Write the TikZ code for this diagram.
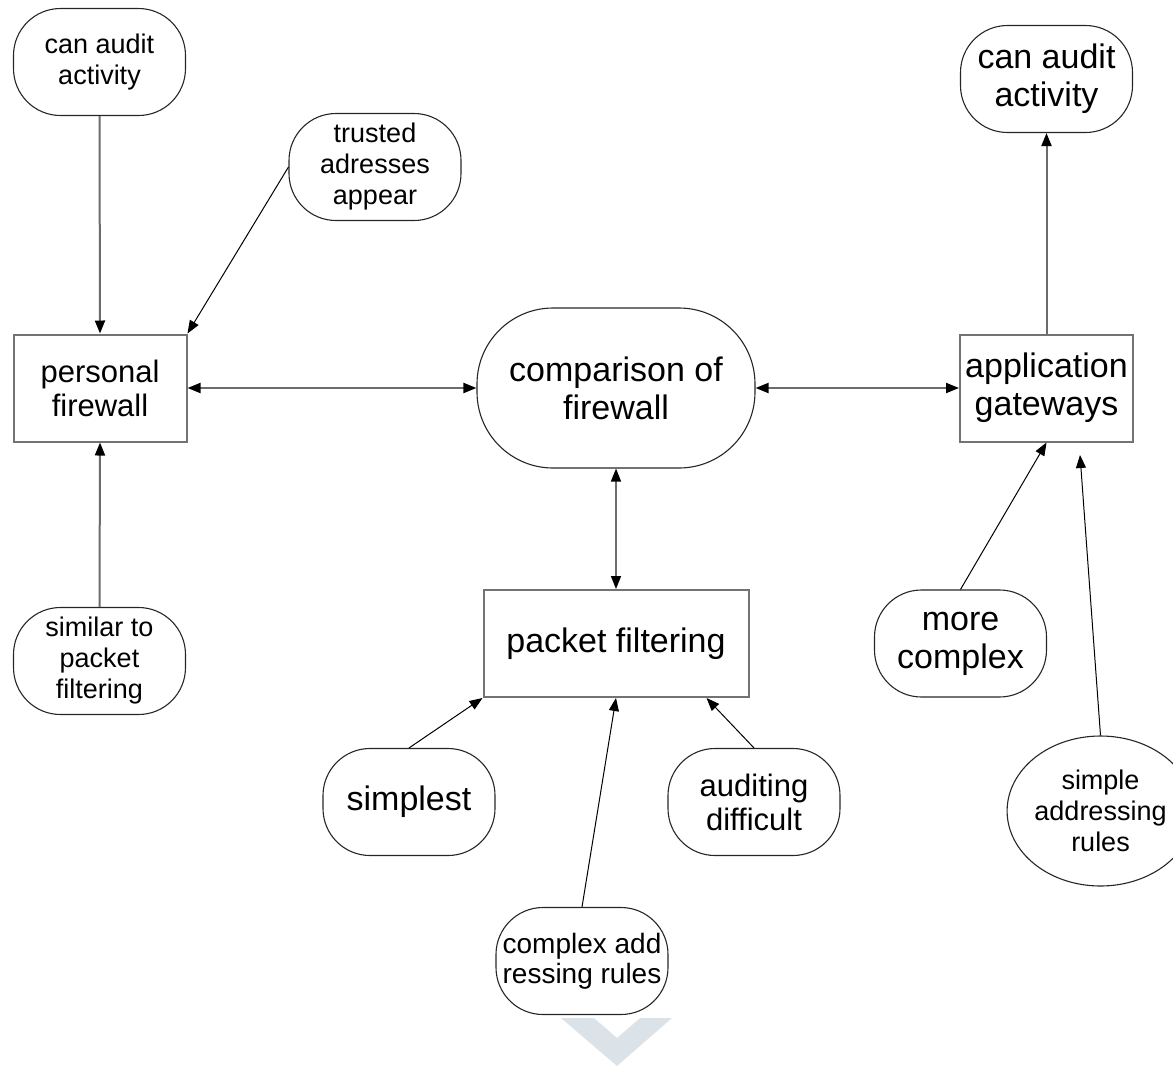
\documentclass[tikz,border=0pt]{standalone}
\usepackage{fontspec}
\setmainfont{Liberation Sans}
\usetikzlibrary{arrows.meta,shapes.geometric,calc}

\definecolor{chevgray}{HTML}{DCE3E8}

\tikzset{
  idea/.style={draw=black!85, line width=1.1pt, rounded corners=47pt, minimum width=172pt, minimum height=107pt, inner sep=0pt, align=center},
  topic/.style={draw=black!55, line width=2pt, minimum width=173pt, minimum height=107pt, inner sep=0pt, align=center},
  fsmall/.style={font=\fontsize{27}{31}\selectfont},
  fmid/.style={font=\fontsize{31}{34}\selectfont},
  fbig/.style={font=\fontsize{34}{38}\selectfont},
  link/.style={->, line width=1pt},
  heavylink/.style={line width=2pt, draw=black!58},
}

\begin{document}
\begin{tikzpicture}[x=1pt, y=-1pt, >={Triangle[length=13pt,width=10pt,color=black]}]
      \useasboundingbox (0,0) rectangle (1173,1066);
      \node[idea, fsmall] (auditleft) at (99.5, 62) {can audit\\activity};
      \node[idea, fsmall] (trusted) at (375, 167) {trusted\\adresses\\appear};
      \node[topic, fmid] (personal) at (100, 388) {personal\\firewall};
      \node[idea, fbig, rounded corners=76pt, minimum width=278pt, minimum height=160pt] (compare) at (616, 388) {comparison of\\firewall};
      \node[topic, fbig] (gateways) at (1046.5, 388) {application\\gateways};
      \node[idea, fbig] (auditright) at (1046.5, 79) {can audit\\activity};
      \node[idea, fsmall] (similar) at (99.5, 661) {similar to\\packet\\filtering};
      \node[topic, fbig, minimum width=265pt] (packet) at (616, 643.5) {packet filtering};
      \node[idea, fbig] (simplest) at (409, 802) {simplest};
      \node[idea, fmid] (auditing) at (754, 802) {auditing\\difficult};
      \node[idea, font=\fontsize{28}{30}\selectfont] (complexadd) at (582, 961) {complex add\\ressing rules};
      \node[idea, fbig] (morecomplex) at (960.5, 643.5) {more\\complex};
      \node[ellipse, draw=black!85, line width=1.1pt, inner sep=0pt, minimum width=145pt, minimum height=150pt, align=center, fsmall] (simpleaddr) at (1100.5, 811) {simple\\addressing\\rules};
      \coordinate (auditingend) at ($(packet.south east)+(-43,0)$);
      \coordinate (gatewaysfree) at (1080, 455);
      \draw[heavylink, ->] (auditleft.south) -- (personal.north);
      \draw[link] (trusted.west) -- (personal.north east);
      \draw[heavylink, ->] (similar.north) -- (personal.south);
      \draw[heavylink, <->] (personal.east) -- (compare.west);
      \draw[heavylink, <->] (compare.east) -- (gateways.west);
      \draw[heavylink, <->, line width=1.5pt] (compare.south) -- (packet.north);
      \draw[heavylink, ->] (gateways.north) -- (auditright.south);
      \draw[link] (morecomplex.north) -- (gateways.south);
      \draw[link] (simpleaddr.north) -- (gatewaysfree);
      \draw[link] (simplest.north) -- (packet.south west);
      \draw[link] (complexadd.north) -- (packet.south);
      \draw[link] (auditing.north) -- (auditingend);
      \fill[chevgray] (561,1018) -- (594,1018) -- (617,1038) -- (640,1018) -- (672,1018) -- (617,1066) -- cycle;
\end{tikzpicture}
\end{document}
